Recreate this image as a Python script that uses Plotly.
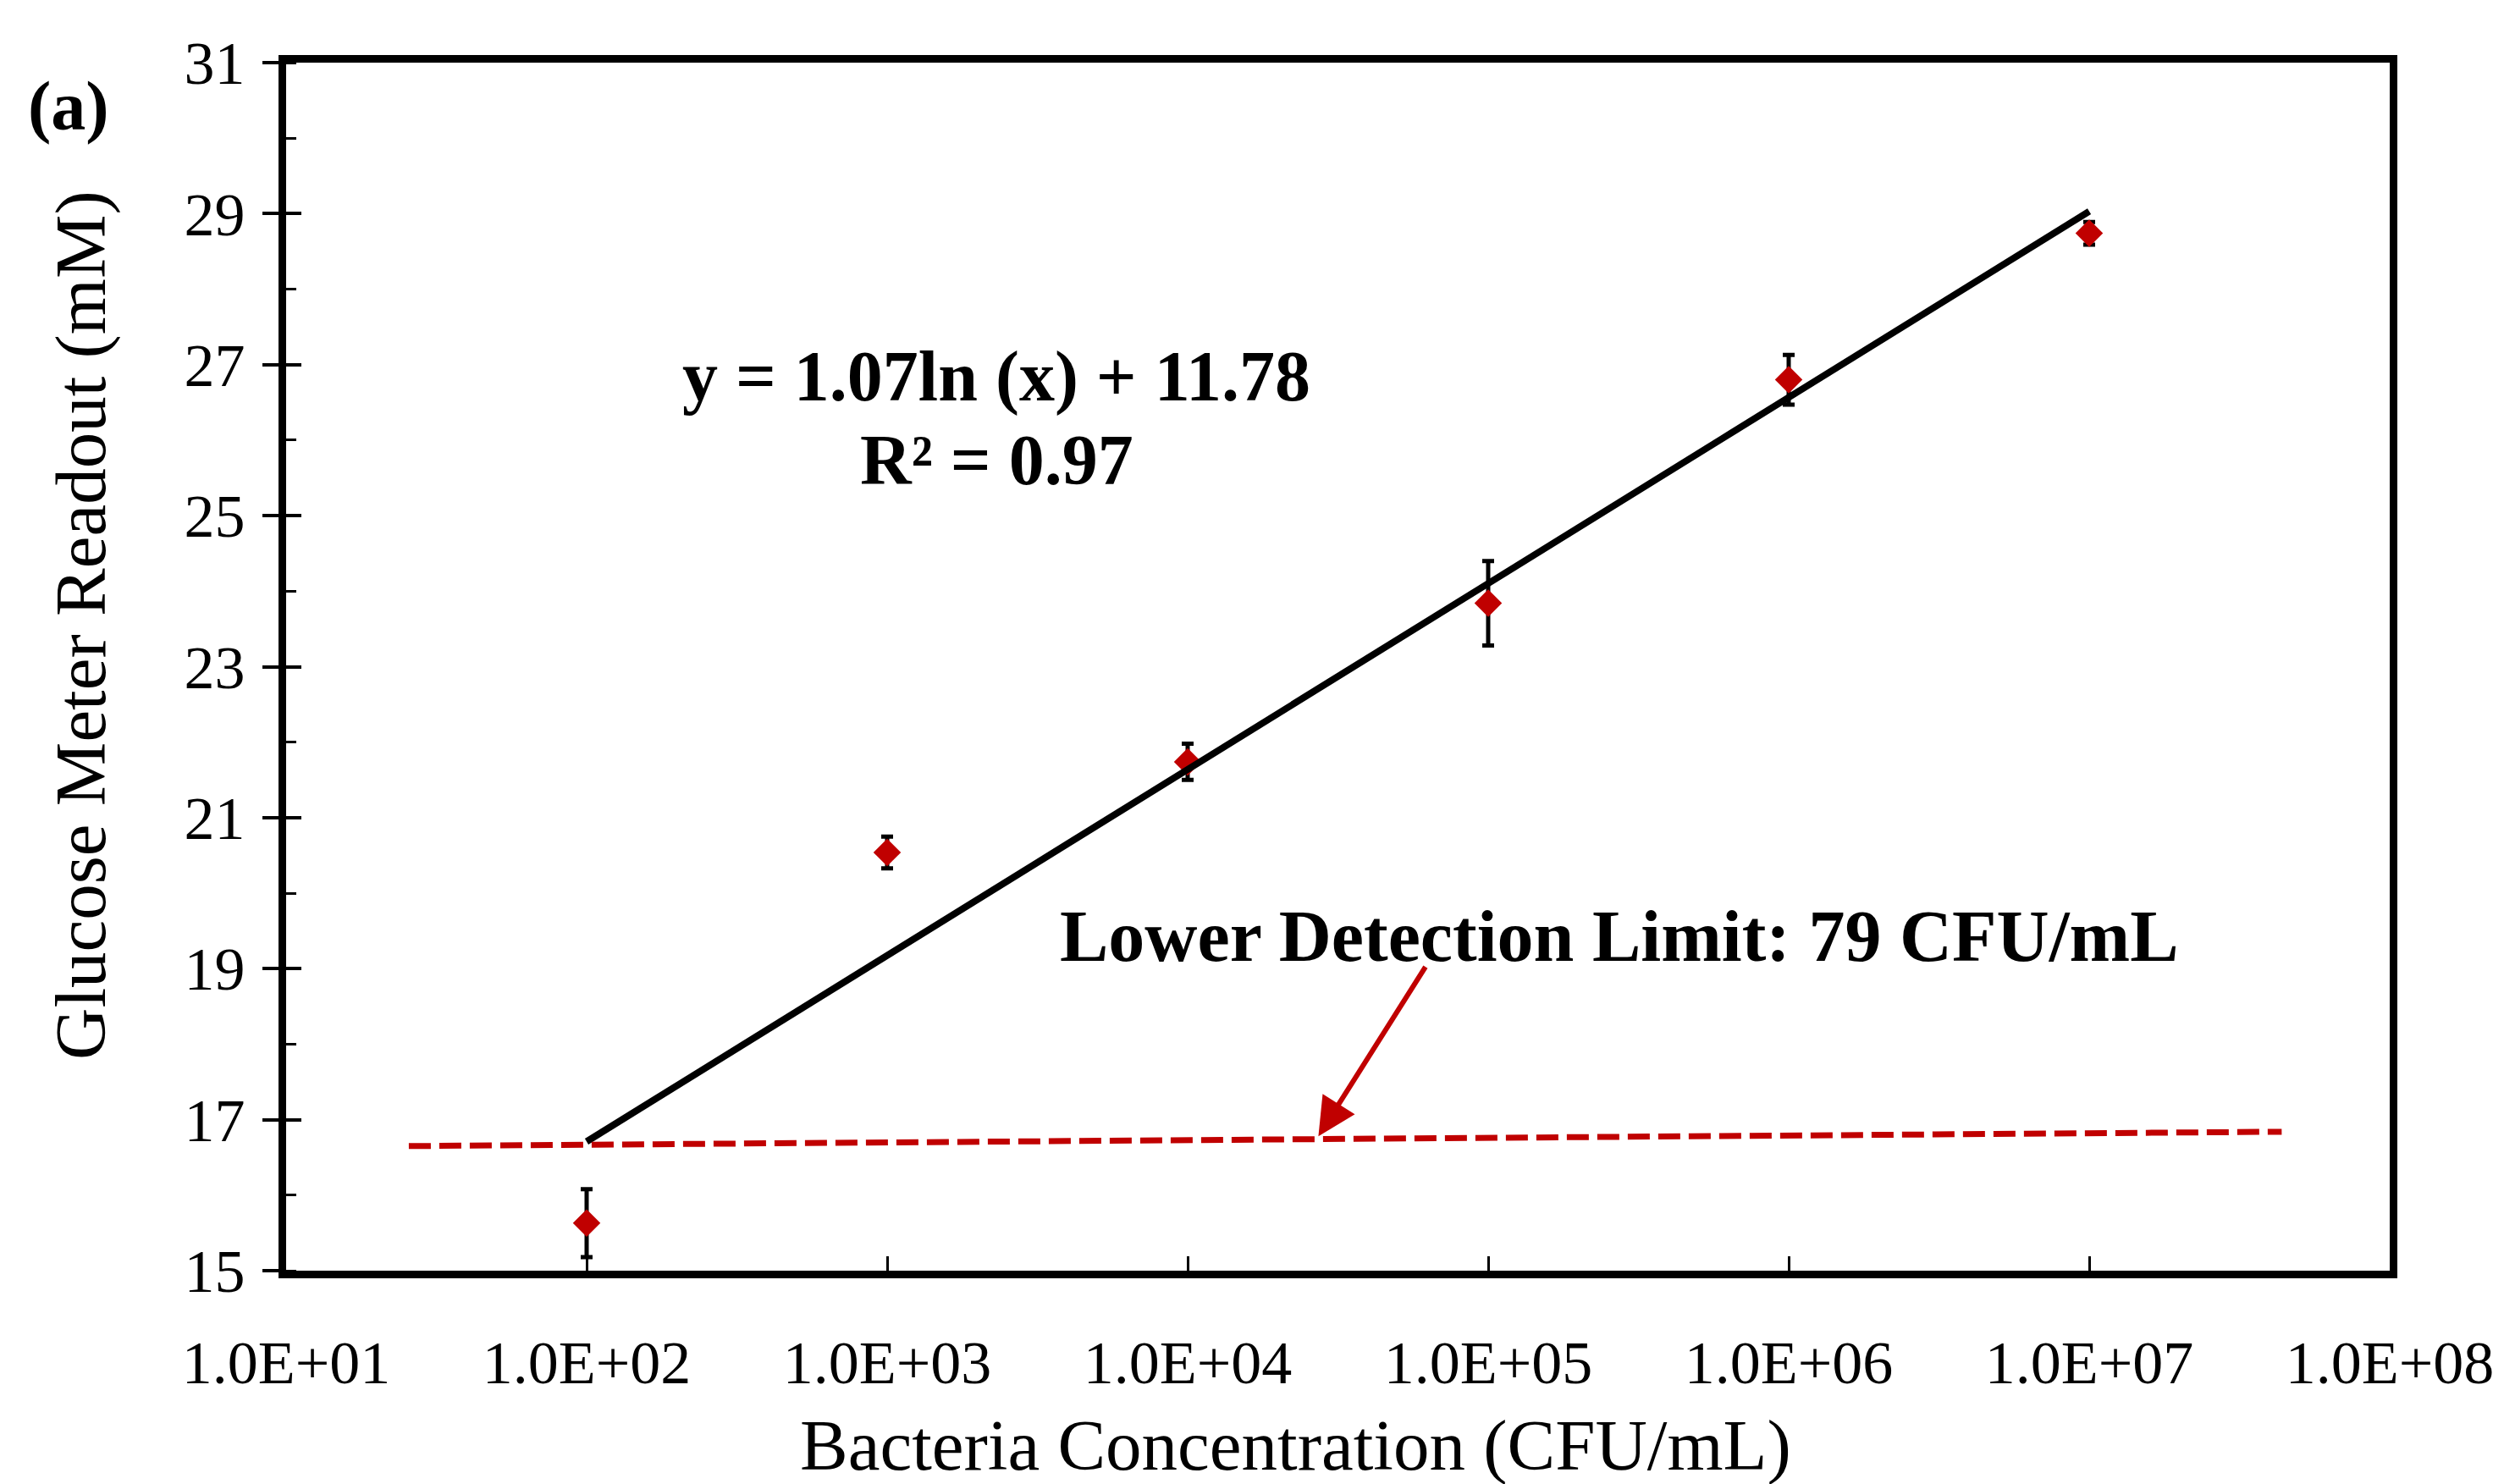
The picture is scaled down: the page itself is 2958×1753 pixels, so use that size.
import plotly.graph_objects as go

# ---- data ----
conc = [1e2, 1e3, 1e4, 1e5, 1e6, 1e7]                 # CFU/mL
glucose = [15.63, 20.54, 21.74, 23.84, 26.80, 28.74]  # mM
glucose_err = [0.45, 0.21, 0.24, 0.56, 0.33, 0.15]

trend_x = [1e2, 1e7]
trend_y = [16.71, 29.03]

lod_x = [25.6, 4.37e7]
lod_y = [16.65, 16.84]

x_tickvals = [1e1, 1e2, 1e3, 1e4, 1e5, 1e6, 1e7, 1e8]
x_ticktext = ["1.0E+01", "1.0E+02", "1.0E+03", "1.0E+04",
              "1.0E+05", "1.0E+06", "1.0E+07", "1.0E+08"]
y_tickvals = [15, 17, 19, 21, 23, 25, 27, 29, 31]

SERIF = "Times New Roman, Liberation Serif, serif"
RED = "#C00000"

fig = go.Figure()

fig.add_trace(go.Scatter(
    x=conc, y=glucose, mode="markers",
    marker=dict(symbol="diamond", size=25, color=RED),
    error_y=dict(type="data", array=glucose_err, color="black",
                 thickness=5, width=7),
    showlegend=False,
))

fig.add_trace(go.Scatter(
    x=trend_x, y=trend_y, mode="lines",
    line=dict(color="black", width=8),
    showlegend=False,
))

fig.add_trace(go.Scatter(
    x=lod_x, y=lod_y, mode="lines",
    line=dict(color=RED, width=7, dash="26px,10px"),
    showlegend=False,
))

# invisible trace on overlay axis so its inside ticks render
fig.add_trace(go.Scatter(x=[conc[0]], y=[glucose[0]], yaxis="y2",
                         mode="markers", marker=dict(opacity=0),
                         showlegend=False, hoverinfo="skip"))

fig.update_layout(
    width=2958, height=1753,
    margin=dict(l=338, r=132, t=74, b=252),
    paper_bgcolor="white", plot_bgcolor="white",
    font=dict(family=SERIF, color="black", size=72),
    xaxis=dict(
        type="log", range=[1, 8],
        tickvals=x_tickvals, ticktext=x_ticktext,
        ticks="inside", ticklen=17, tickwidth=3, tickcolor="black",
        ticklabelstandoff=38,
        tickfont=dict(family=SERIF, size=72, color="black"),
        showline=True, linecolor="black", linewidth=9, mirror=True,
        showgrid=False, zeroline=False,
    ),
    yaxis=dict(
        range=[15, 31], tickvals=y_tickvals,
        ticks="outside", ticklen=19, tickwidth=4, tickcolor="black",
        ticklabelstandoff=6,
        tickfont=dict(family=SERIF, size=72, color="black"),
        minor=dict(dtick=1, ticks="inside", ticklen=12, tickwidth=3,
                   tickcolor="black", showgrid=False),
        showline=True, linecolor="black", linewidth=9, mirror=True,
        showgrid=False, zeroline=False,
    ),
    yaxis2=dict(
        overlaying="y", matches="y", side="left", range=[15, 31],
        tickvals=y_tickvals, ticks="inside", ticklen=18, tickwidth=4,
        tickcolor="black", showticklabels=False, showline=False,
        showgrid=False, zeroline=False,
    ),
    annotations=[
        dict(text="Glucose Meter Readout (mM)", xref="paper", yref="paper",
             x=-0.0975, y=0.5345, textangle=-90, showarrow=False,
             xanchor="center", yanchor="middle",
             font=dict(family=SERIF, size=85, color="black")),
        dict(text="Bacteria Concentration (CFU/mL)", xref="paper", yref="paper",
             x=0.48, y=-0.145, showarrow=False,
             xanchor="center", yanchor="middle",
             font=dict(family=SERIF, size=85, color="black")),
        dict(text="<b>(a)</b>", xref="paper", yref="paper",
             x=-0.1035, y=0.964, showarrow=False,
             xanchor="center", yanchor="middle",
             font=dict(family=SERIF, size=82, color="black")),
        dict(text="<b>y = 1.07ln (x) + 11.78</b>", xref="x", yref="y",
             x=3.364, y=26.84, showarrow=False,
             xanchor="center", yanchor="middle",
             font=dict(family=SERIF, size=84, color="black")),
        dict(text="<b>R² = 0.97</b>", xref="x", yref="y",
             x=3.364, y=25.74, showarrow=False,
             xanchor="center", yanchor="middle",
             font=dict(family=SERIF, size=84, color="black")),
        dict(text="<b>Lower Detection Limit: 79 CFU/mL</b>", xref="x", yref="y",
             x=5.436, y=19.43, showarrow=False,
             xanchor="center", yanchor="middle",
             font=dict(family=SERIF, size=86, color="black")),
        dict(text="", xref="x", yref="y", x=4.435, y=16.78,
             axref="x", ayref="y", ax=4.794, ay=19.04,
             showarrow=True, arrowhead=2, arrowsize=1.5, arrowwidth=6,
             arrowcolor=RED, standoff=0),
    ],
)

fig.write_html("out.html")
